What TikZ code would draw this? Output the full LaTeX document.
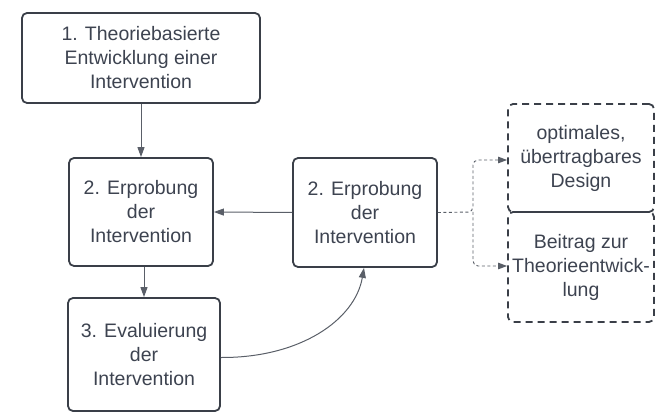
\documentclass[tikz,border=0pt]{standalone}
\usepackage{fontspec}
\setmainfont{Liberation Sans}
\usetikzlibrary{arrows.meta,calc}
\definecolor{ink}{HTML}{3A3F48}
\definecolor{txt}{HTML}{3D4350}
\definecolor{conn}{HTML}{5A5F68}
\begin{document}
\begin{tikzpicture}[x=1pt,y=-1pt,
  box/.style={draw=ink, line width=1.8pt, rounded corners=5pt, text=txt, align=center,
    font=\fontsize{19.5}{24}\selectfont, inner sep=0pt},
  dbox/.style={box, dash pattern=on 7pt off 5pt},
  arr/.style={draw=conn, line width=1pt, -{Triangle[length=10pt,width=7pt]}},
  darr/.style={draw=conn, line width=0.9pt, dash pattern=on 3pt off 2.5pt, rounded corners=5pt,
    -{Triangle[length=9pt,width=6.5pt]}}]
\useasboundingbox (0,0) rectangle (672,414);
\node[box, minimum width=238pt, minimum height=90pt] (b1) at (141,58)
  {1. Theoriebasierte\\Entwicklung einer\\Intervention};
\node[box, minimum width=144pt, minimum height=108pt] (b2l) at (141,212)
  {2. Erprobung\\der\\Intervention};
\node[box, minimum width=152pt, minimum height=113pt] (b3) at (144,354.5)
  {3. Evaluierung\\der\\Intervention};
\node[box, minimum width=144pt, minimum height=109pt] (b2r) at (365,212.5)
  {2. Erprobung\\der\\Intervention};
\node[dbox, minimum width=146pt, minimum height=108pt] (d1) at (581,158)
  {optimales,\\übertragbares\\Design};
\node[dbox, minimum width=146pt, minimum height=110pt] (d2) at (581,267)
  {Beitrag zur\\Theorieentwick-\\lung};
\coordinate (split) at (473,212);
\draw[arr] (b1.south) -- (b1.south |- b2l.north);
\draw[arr] ($(b2l.south)+(3,0)$) -- ($(b2l.south |- b3.north)+(3,0)$);
\draw[arr] (b2r.west) -- (b2l.east);
\draw[arr] ($(b3.east)+(0,3)$) .. controls (300,358) and (355,320) .. ($(b2r.south)+(-1,0)$);
\draw[darr] (b2r.east) -- (split) |- ($(d1.west)+(0,2)$);
\draw[darr] (split) |- ($(d2.west)+(0,-1)$);
\end{tikzpicture}
\end{document}
